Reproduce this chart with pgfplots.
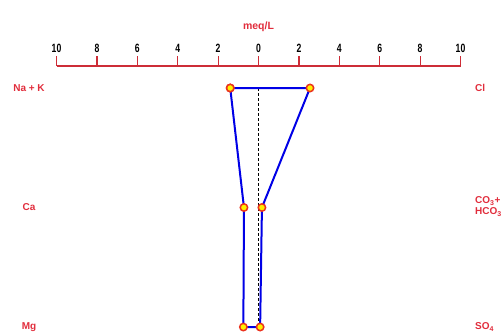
\documentclass[border=0pt]{standalone}
\usepackage{pgfplots}
\pgfplotsset{compat=1.18}
\usepackage{fontspec}
\setmainfont{Liberation Sans}
\newfontfamily\narrowfont[FakeStretch=0.72]{Liberation Sans}
\definecolor{ionred}{RGB}{225,45,60}
\definecolor{scalered}{RGB}{205,45,55}
\definecolor{polyblue}{RGB}{0,0,230}
\definecolor{markfill}{RGB}{255,240,0}
\definecolor{markedge}{RGB}{235,50,30}
\begin{document}
\begin{tikzpicture}
\begin{axis}[
  scale only axis, width=502pt, height=333pt,
  xmin=-12.797, xmax=12.054,
  ymin=0.2636, ymax=3.050, y dir=reverse,
  axis lines=none, clip=false,
]
% zero line
\addplot[black, densely dashed, line width=0.5pt] coordinates {(0,1) (0,3)};
% Stiff polygon: cations on the left (negative), anions on the right
\addplot[polyblue, line width=2pt, mark=*, mark size=3.7pt,
  mark options={fill=markfill, draw=markedge, line width=1.5pt}]
  coordinates {(-1.40,1) (2.55,1) (0.17,2) (0.08,3) (-0.75,3) (-0.72,2) (-1.40,1)};
% meq/L scale
\draw[scalered, line width=1.2pt] (axis cs:-10,0.816) -- (axis cs:10,0.816);
\pgfplotsinvokeforeach{-10,-8,-6,-4,-2,0,2,4,6,8,10}{
  \draw[scalered, line width=1.2pt] (axis cs:#1,0.816) -- (axis cs:#1,0.735);
}
\begin{scope}[every node/.style={font=\narrowfont\bfseries\fontsize{12}{13}\selectfont, anchor=base, inner sep=0pt}]
\node at (axis cs:-10,0.707) {10};
\node at (axis cs:-8,0.707) {8};
\node at (axis cs:-6,0.707) {6};
\node at (axis cs:-4,0.707) {4};
\node at (axis cs:-2,0.707) {2};
\node at (axis cs:0,0.707) {0};
\node at (axis cs:2,0.707) {2};
\node at (axis cs:4,0.707) {4};
\node at (axis cs:6,0.707) {6};
\node at (axis cs:8,0.707) {8};
\node at (axis cs:10,0.707) {10};
\end{scope}
\node[text=ionred, font=\bfseries\fontsize{10.5}{12}\selectfont] at (axis cs:0,0.490) {meq/L};
% ion labels
\begin{scope}[every node/.style={text=ionred, font=\bfseries\fontsize{10}{11}\selectfont}]
\node at (axis cs:-11.36,1) {Na + K};
\node at (axis cs:-11.36,2) {Ca};
\node at (axis cs:-11.36,3) {Mg};
\node[anchor=west] at (axis cs:10.55,1) {Cl};
\node[anchor=west, align=left, inner ysep=0pt] at (axis cs:10.55,1.99) {CO\textsubscript{3}+\\HCO\textsubscript{3}};
\node[anchor=west] at (axis cs:10.55,3.0) {SO\textsubscript{4}};
\end{scope}
\end{axis}
\pgfresetboundingbox
\path (current axis.south west) rectangle (current axis.north east);
\end{tikzpicture}
\end{document}
